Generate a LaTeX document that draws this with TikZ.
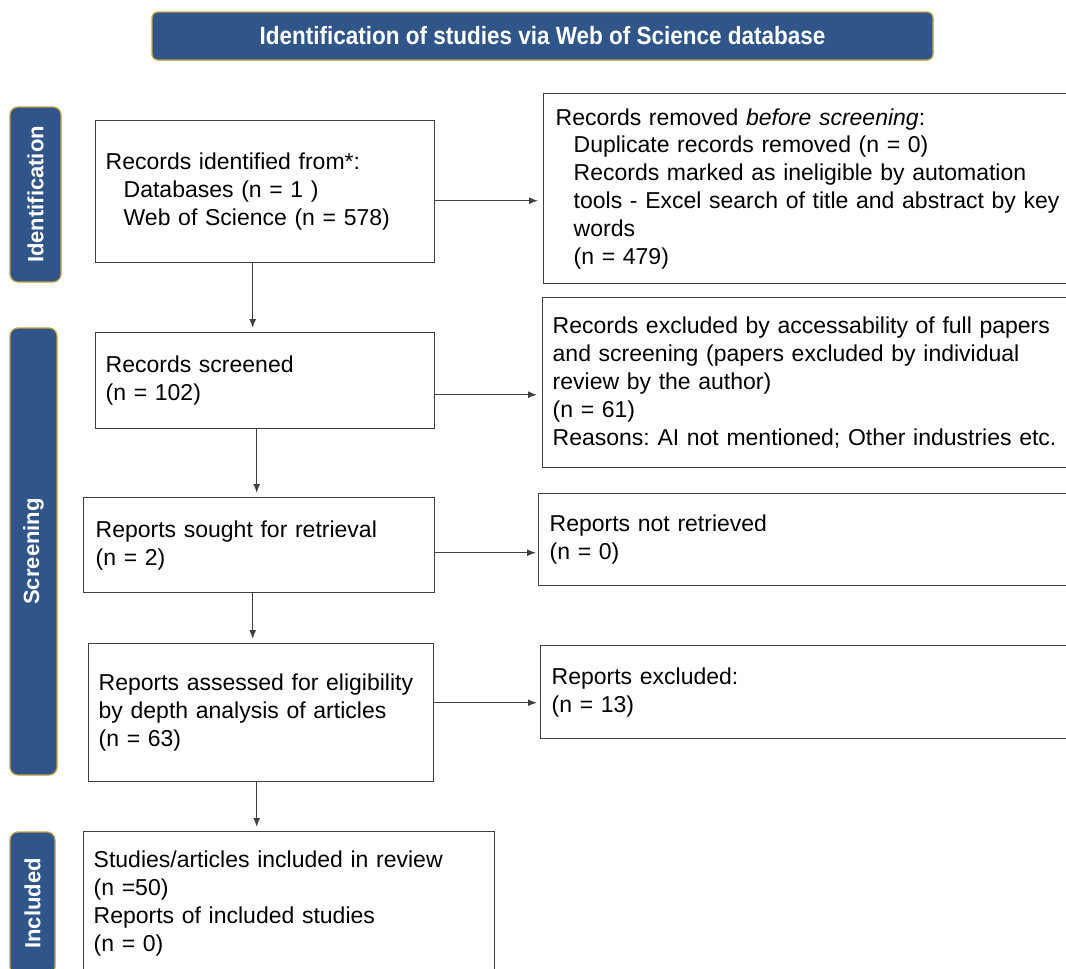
\documentclass[tikz,border=0pt]{standalone}
\usepackage{fontspec}
\setmainfont{Liberation Sans}
\newfontfamily\headfont[FakeStretch=0.9]{Liberation Sans}
\usepackage{xcolor}
\definecolor{prismaBlue}{RGB}{47,85,137}
\definecolor{prismaGold}{RGB}{196,160,64}
\definecolor{boxGray}{RGB}{64,64,64}
\usetikzlibrary{shapes,arrows,arrows.meta,positioning}
\frenchspacing
\hyphenpenalty=10000
\tikzstyle{block} = [draw=boxGray, line width=1.4pt, fill=white, rectangle, anchor=north west, align=left, inner ysep=0pt, font=\fontsize{23}{27.8}\selectfont]
\tikzstyle{phase} = [draw=prismaGold, line width=1.2pt, fill=prismaBlue, rounded corners=8pt, rectangle, rotate=90, inner sep=0pt, text=white, font=\fontsize{22}{24}\selectfont\bfseries]
\tikzstyle{header} = [draw=prismaGold, line width=1.2pt, fill=prismaBlue, rounded corners=6pt, rectangle, inner sep=0pt, text=white, font=\headfont\fontsize{25}{28}\selectfont\bfseries]

\begin{document}
\begin{tikzpicture}[x=1pt, y=-1pt, >={Latex[length=9pt,width=7pt]}, line width=1.3pt]
        \useasboundingbox (0,0) rectangle (1066,969);
        \clip (0,0) rectangle (1066,969);
        % We start by placing the headings
        \node [header, minimum width=781pt, minimum height=48pt] (title) at (542.5,36) {Identification of studies via Web of Science database};
        \node [phase, minimum width=175pt, minimum height=51pt] (identPhase) at (35.5,194.5) {Identification};
        \node [phase, minimum width=447pt, minimum height=47pt] (screenPhase) at (33.5,551.5) {Screening};
        \node [phase, minimum width=143pt, minimum height=45pt] (inclPhase) at (32.5,903.5) {Included};

        % Main column
        \node [block, inner xsep=10pt, text width=319pt, minimum height=142pt] (identBox) at (95,120) {Records identified from*:\\\hspace*{18pt}Databases (n = 1 )\\\hspace*{18pt}Web of Science (n = 578)};
        \node [block, inner xsep=10pt, text width=319pt, minimum height=96pt] (screenBox) at (95,332) {Records screened\\(n = 102)};
        \node [block, inner xsep=12pt, text width=327pt, minimum height=95pt] (soughtBox) at (83,497) {Reports sought for retrieval\\(n = 2)};
        \node [block, inner xsep=10pt, text width=325pt, minimum height=138pt] (assessBox) at (88,643) {Reports assessed for eligibility\\by depth analysis of articles\\(n = 63)};
        \node [block, inner xsep=10pt, text width=391pt, minimum height=144pt] (inclBox) at (83,831) {Studies/articles included in review\\(n =50)\\Reports of included studies\\(n = 0)};

        % Side column
        \node [block, inner xsep=12pt, text width=540pt, minimum height=190pt] (removedBox) at (543,93) {Records removed \textit{before screening}:\\\hspace*{18pt}Duplicate records removed (n = 0)\\\hspace*{18pt}Records marked as ineligible by automation\\\hspace*{18pt}tools - Excel search of title and abstract by key\\\hspace*{18pt}words\\\hspace*{18pt}(n = 479)};
        \node [block, inner xsep=10pt, text width=540pt, minimum height=170pt] (excludedBox) at (542,297) {Records excluded by accessability of full papers\\and screening (papers excluded by individual\\review by the author)\\(n = 61)\\Reasons: AI not mentioned; Other industries etc.};
        \node [block, inner xsep=11pt, text width=540pt, minimum height=92pt] (notRetrBox) at (538,493) {Reports not retrieved\\(n = 0)};
        \node [block, inner xsep=11pt, text width=540pt, minimum height=93pt] (reportExclBox) at (540,645) {Reports excluded:\\(n = 13)};

        % Once the nodes are placed, connecting them is easy.
        \draw [->, draw=boxGray, shorten >=5pt] ([yshift=-9pt]identBox.east) -- ([yshift=-9pt]identBox.east -| removedBox.west);
        \draw [->, draw=boxGray, shorten >=5pt] ([yshift=-14pt]screenBox.east) -- ([yshift=-14pt]screenBox.east -| excludedBox.west);
        \draw [->, draw=boxGray, shorten >=2pt] ([yshift=-7.5pt]soughtBox.east) -- ([yshift=-7.5pt]soughtBox.east -| notRetrBox.west);
        \draw [->, draw=boxGray, shorten >=3pt] ([yshift=10pt]assessBox.east) -- ([yshift=10pt]assessBox.east -| reportExclBox.west);
        \draw [->, draw=boxGray, shorten >=4pt] ([xshift=-12.5pt]identBox.south) -- ([xshift=-12.5pt]identBox.south |- screenBox.north);
        \draw [->, draw=boxGray, shorten >=4pt] ([xshift=-8.5pt]screenBox.south) -- ([xshift=-8.5pt]screenBox.south |- soughtBox.north);
        \draw [->, draw=boxGray, shorten >=4pt] ([xshift=-6.5pt]soughtBox.south) -- ([xshift=-6.5pt]soughtBox.south |- assessBox.north);
        \draw [->, draw=boxGray, shorten >=4pt] ([xshift=-4.5pt]assessBox.south) -- ([xshift=-4.5pt]assessBox.south |- inclBox.north);
    \end{tikzpicture}
\end{document}
